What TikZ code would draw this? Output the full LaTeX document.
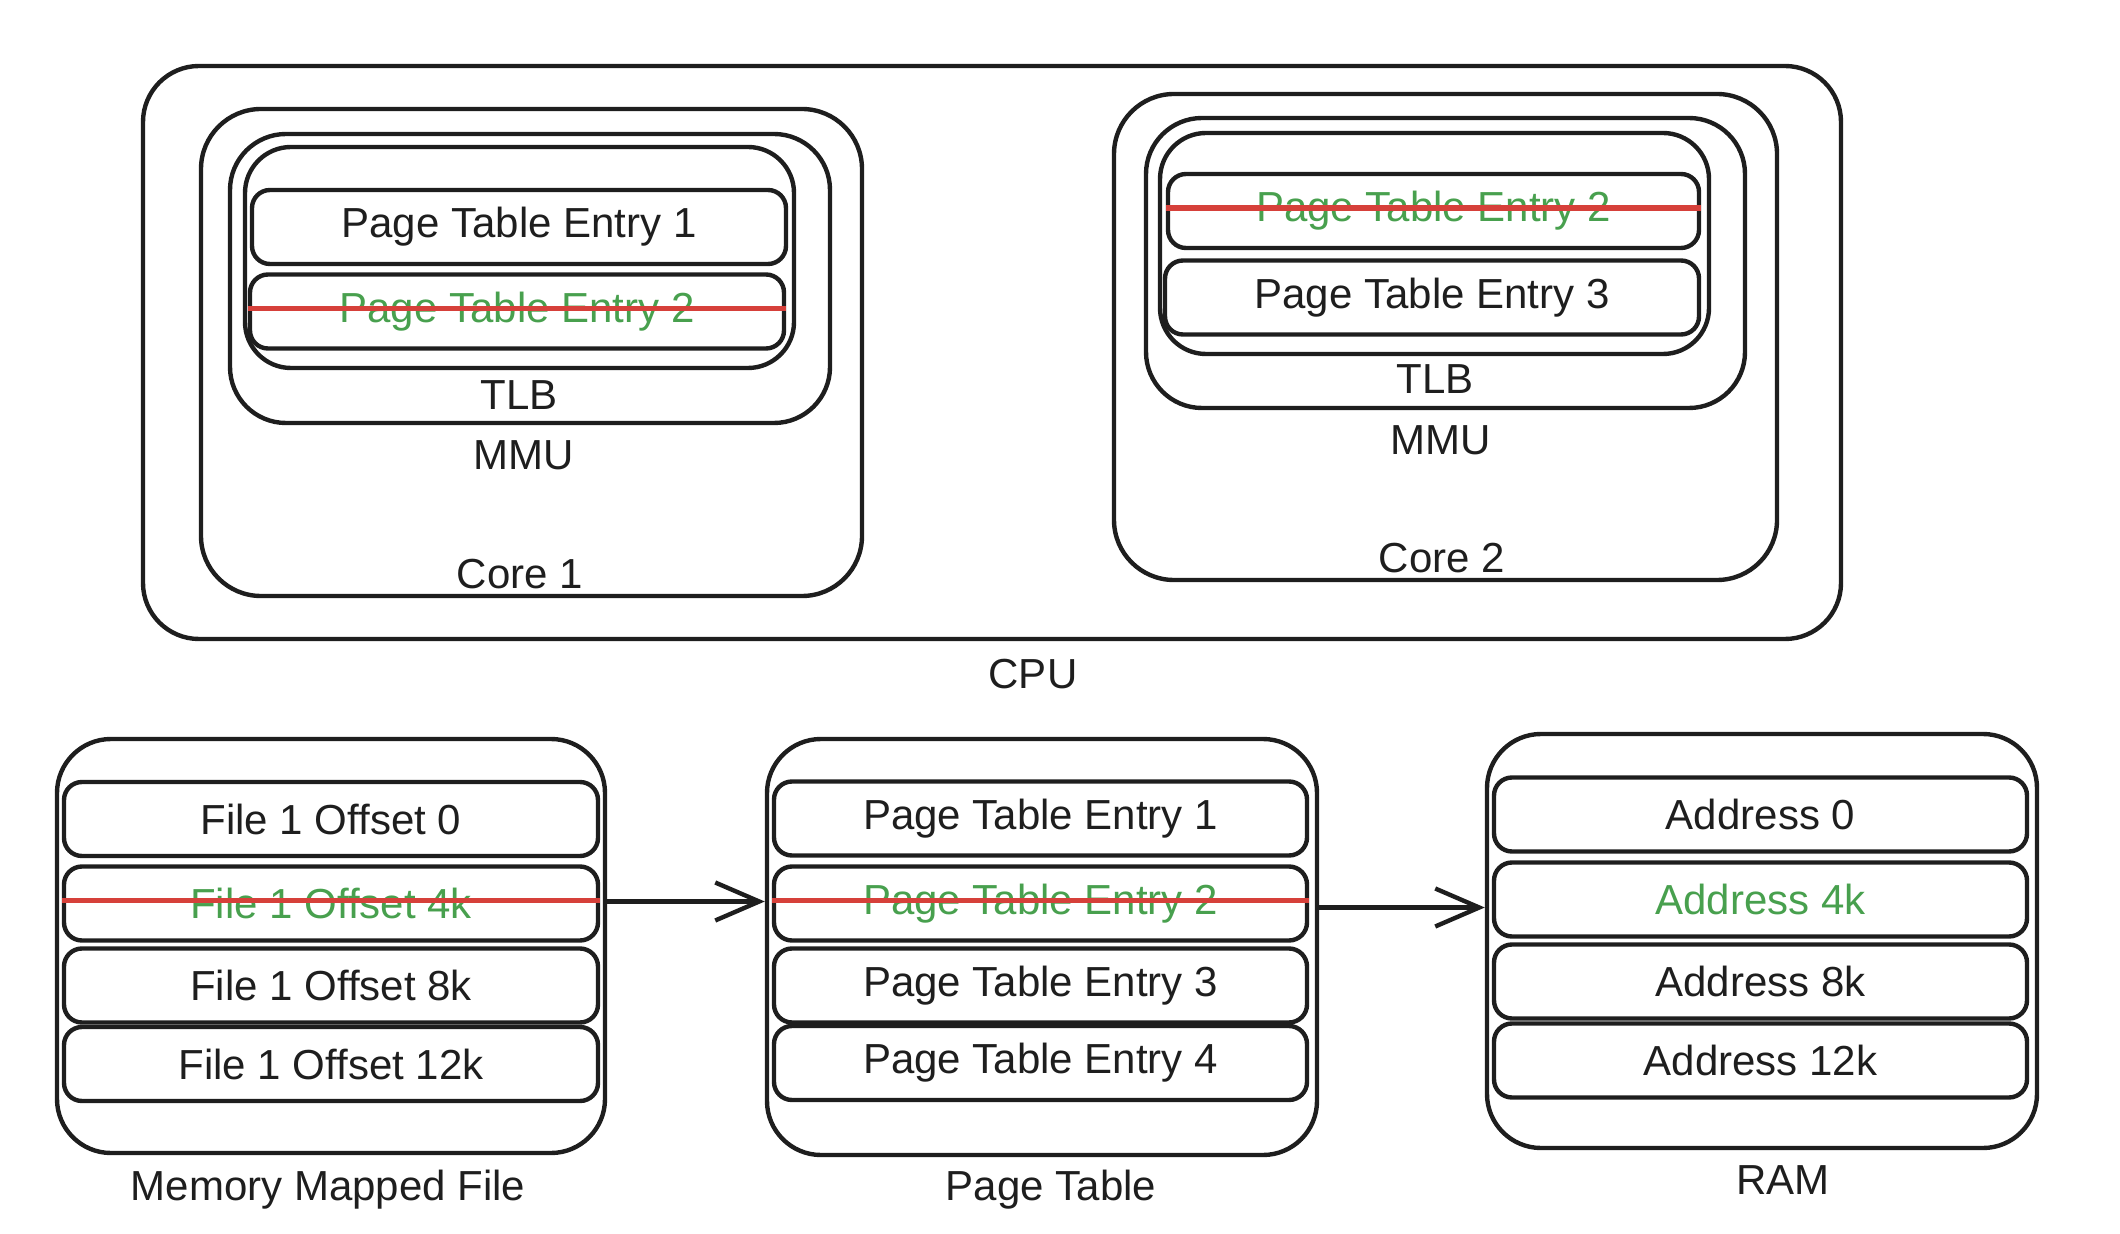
\documentclass[tikz,border=0pt]{standalone}
\usepackage{fontspec}
\setmainfont{Liberation Sans}
\usetikzlibrary{arrows.meta}
\definecolor{ink}{RGB}{30,30,30}
\definecolor{grn}{RGB}{72,160,78}
\definecolor{strikered}{RGB}{214,64,58}
\begin{document}
\begin{tikzpicture}[x=0.5pt,y=-0.5pt,
  box/.style={draw=ink, line width=2.2pt, rounded corners=#1, inner sep=0pt},
  box/.default=27pt,
  rowbox/.style={draw=ink, line width=2.2pt, rounded corners=9pt, inner sep=0pt,
    minimum width=267pt, minimum height=37pt,
    font=\fontsize{21}{25}\selectfont, text=ink},
  stale/.style={text=grn},
  lbl/.style={font=\fontsize{21}{25}\selectfont, text=ink, inner sep=0pt},
  strikeline/.style={draw=strikered, line width=2.6pt},
  arr/.style={draw=ink, line width=2.2pt, -{Straight Barb[length=22pt,width=19pt,line width=2.2pt]}}
]
\useasboundingbox (0,0) rectangle (2120,1234);

% ---------- CPU ----------
\node[box=28pt, minimum width=849pt, minimum height=286.5pt] (cpu) at (992,352.5) {};
\node[lbl] (cpulbl) at (1033,674) {CPU};

% Core 1
\node[box=30pt, minimum width=330.5pt, minimum height=243.5pt] (core1) at (531.5,352.5) {};
\node[lbl] (core1lbl) at (520,574) {Core 1};
\node[box=28pt, minimum width=300pt, minimum height=144.5pt] (mmu1) at (530,278.5) {};
\node[lbl] (mmu1lbl) at (524,455) {MMU};
\node[box=23pt, minimum width=274.5pt, minimum height=110.5pt] (tlb1) at (519.5,257.5) {};
\node[lbl] (tlb1lbl) at (519,395) {TLB};
\node[rowbox] (c1e1) at (519,227) {Page Table Entry 1};
\node[rowbox, stale] (c1e2) at (517,311.5) {Page Table Entry 2};
\draw[strikeline] ([yshift=1.5pt]c1e2.west) -- ([yshift=1.5pt]c1e2.east);

% Core 2
\node[box=30pt, minimum width=331.5pt, minimum height=243pt] (core2) at (1445.5,337) {};
\node[lbl] (core2lbl) at (1442,558) {Core 2};
\node[box=28pt, minimum width=299.5pt, minimum height=145pt] (mmu2) at (1445.5,263) {};
\node[lbl] (mmu2lbl) at (1441,440) {MMU};
\node[box=23pt, minimum width=274.5pt, minimum height=110.5pt] (tlb2) at (1434.5,243.5) {};
\node[lbl] (tlb2lbl) at (1435,379) {TLB};
\node[rowbox, stale, minimum width=265.5pt] (c2e2) at (1433.5,211) {Page Table Entry 2};
\draw[strikeline] ([yshift=1.5pt]c2e2.west) -- ([yshift=1.5pt]c2e2.east);
\node[rowbox] (c2e3) at (1432,297.5) {Page Table Entry 3};

% ---------- Memory Mapped File ----------
\node[box=27pt, minimum width=274pt, minimum height=207pt] (mmf) at (331,946) {};
\node[lbl] (mmflbl) at (328,1190) {Memory Mapped File};
\node[rowbox] (mmf0) at (331,819) {File 1 Offset 0};
\node[rowbox, stale] (mmf4) at (331,903.5) {File 1 Offset 4k};
\draw[strikeline] ([yshift=1.5pt]mmf4.west) -- ([yshift=1.5pt]mmf4.east);
\node[rowbox] (mmf8) at (331,985.5) {File 1 Offset 8k};
\node[rowbox] (mmf12) at (331,1064) {File 1 Offset 12k};

% ---------- Page Table ----------
\node[box=27pt, minimum width=275pt, minimum height=208pt] (pt) at (1042,947) {};
\node[lbl] (ptlbl) at (1051,1190) {Page Table};
\node[rowbox, minimum width=266.5pt] (pt1) at (1040.5,818.5) {Page Table Entry 1};
\node[rowbox, stale, minimum width=266.5pt] (pt2) at (1040.5,903.5) {Page Table Entry 2};
\draw[strikeline] ([yshift=1.5pt]pt2.west) -- ([yshift=1.5pt]pt2.east);
\node[rowbox, minimum width=266.5pt] (pt3) at (1040.5,985.5) {Page Table Entry 3};
\node[rowbox, minimum width=266.5pt] (pt4) at (1040.5,1063) {Page Table Entry 4};

% ---------- RAM ----------
\node[box=27pt, minimum width=275pt, minimum height=207pt] (ram) at (1762,941) {};
\node[lbl] (ramlbl) at (1783,1180) {RAM};
\node[rowbox, minimum width=266.5pt] (ram0) at (1760.5,814.5) {Address 0};
\node[rowbox, stale, minimum width=266.5pt] (ram4) at (1760.5,899.5) {Address 4k};
\node[rowbox, minimum width=266.5pt] (ram8) at (1760.5,981.5) {Address 8k};
\node[rowbox, minimum width=266.5pt] (ram12) at (1760.5,1060.5) {Address 12k};

% ---------- Arrows ----------
\draw[arr] ([yshift=1pt]mmf4.east -| mmf.east) -- ([yshift=1pt]mmf4.east -| pt.west);
\draw[arr] ([yshift=-2pt]pt2.east -| pt.east) -- ([yshift=-2pt]pt2.east -| ram.west);
\end{tikzpicture}
\end{document}
